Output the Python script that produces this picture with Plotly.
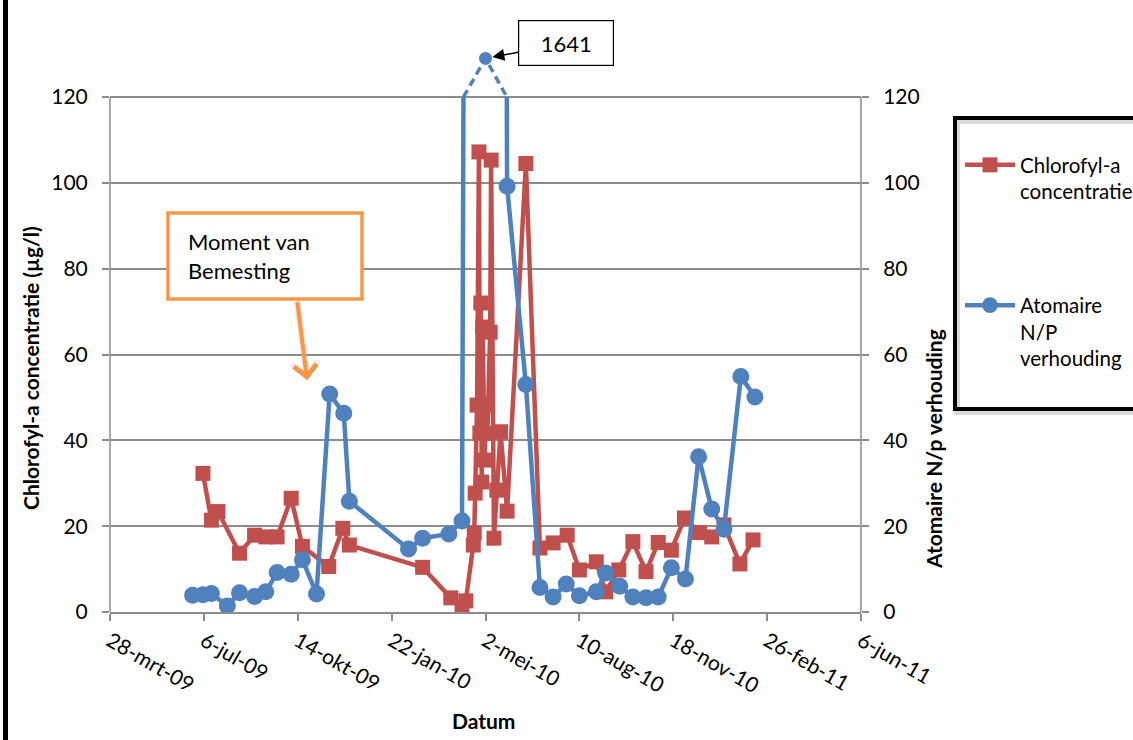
import pandas as pd
import plotly.graph_objects as go

# ---------------------------------------------------------------- data
CHL_DATES = [
    "2009-07-05", "2009-07-14", "2009-07-21", "2009-08-13", "2009-08-29",
    "2009-09-10", "2009-09-22", "2009-10-07", "2009-10-19", "2009-11-16",
    "2009-12-01", "2009-12-08", "2010-02-24", "2010-03-26", "2010-04-07",
    "2010-04-11", "2010-04-19", "2010-04-20", "2010-04-21", "2010-04-23",
    "2010-04-25", "2010-04-26", "2010-04-27", "2010-04-28", "2010-04-29",
    "2010-05-01", "2010-05-03", "2010-05-04", "2010-05-07", "2010-05-08",
    "2010-05-11", "2010-05-14", "2010-05-18", "2010-05-25", "2010-06-14",
    "2010-06-29", "2010-07-13", "2010-07-28", "2010-08-10", "2010-08-28",
    "2010-09-07", "2010-09-21", "2010-10-06", "2010-10-20", "2010-11-02",
    "2010-11-16", "2010-11-30", "2010-12-16", "2010-12-29", "2011-01-11",
    "2011-01-28", "2011-02-11",
]
CHL_VALUES = [
    32.3, 21.4, 23.4, 13.7, 17.9,
    17.5, 17.5, 26.5, 15.3, 10.6,
    19.5, 15.6, 10.4, 3.3, 1.0,
    2.6, 15.6, 18.4, 27.7, 48.2,
    107.2, 41.7, 72.0, 30.3, 66.4,
    35.4, 48.2, 41.7, 65.2, 105.3,
    17.2, 28.4, 42.0, 23.5, 104.5,
    14.9, 16.1, 17.9, 9.8, 11.7,
    4.7, 9.8, 16.4, 9.4, 16.2,
    14.4, 21.9, 18.5, 17.5, 20.3,
    11.2, 16.8,
]

NP_DATES = [
    "2009-06-24", "2009-07-05", "2009-07-14", "2009-07-31", "2009-08-13",
    "2009-08-29", "2009-09-10", "2009-09-22", "2009-10-07", "2009-10-19",
    "2009-11-03", "2009-11-17", "2009-12-02", "2009-12-08", "2010-02-09",
    "2010-02-24", "2010-03-24", "2010-04-07", "2010-05-02", "2010-05-25",
    "2010-06-14", "2010-06-29", "2010-07-13", "2010-07-27", "2010-08-10",
    "2010-08-28", "2010-09-07", "2010-09-22", "2010-10-06", "2010-10-20",
    "2010-11-02", "2010-11-16", "2010-12-01", "2010-12-15", "2010-12-29",
    "2011-01-11", "2011-01-29", "2011-02-13",
]
NP_VALUES = [
    3.9, 4.0, 4.3, 1.4, 4.5,
    3.6, 4.7, 9.2, 8.8, 12.2,
    4.2, 50.8, 46.3, 25.8, 14.7,
    17.2, 18.2, 21.2, 1641, 99.2,
    53.0, 5.7, 3.5, 6.5, 3.8,
    4.7, 9.1, 6.0, 3.5, 3.3,
    3.5, 10.3, 7.7, 36.2, 24.0,
    19.3, 54.9, 50.1,
]

TICK_DATES = [
    "2009-03-28", "2009-07-06", "2009-10-14", "2010-01-22", "2010-05-02",
    "2010-08-10", "2010-11-18", "2011-02-26", "2011-06-06",
]
TICK_LABELS = [
    "28-mrt-09", "6-jul-09", "14-okt-09", "22-jan-10", "2-mei-10",
    "10-aug-10", "18-nov-10", "26-feb-11", "6-jun-11",
]
Y_TICKS = [0, 20, 40, 60, 80, 100, 120]

FERTILIZATION_DATE = "2009-10-24"

# ---------------------------------------------------------------- styling
RED = "#C0504D"
BLUE = "#4F81BD"
ORANGE = "#F79646"
GRID = "#8c8c8c"
FONT = "Lato, 'Open Sans', sans-serif"

W, H = 1133, 740
PLOT_L, PLOT_R, PLOT_T, PLOT_B = 110, 861, 40, 612
AXIS_MAX = 120          # top of the value scale
AXIS_MAX_PX = 97        # pixel row of the 120 gridline
BREAK_LEVEL = 129       # height at which off-scale values are drawn
Y_TOP = AXIS_MAX * (PLOT_B - PLOT_T) / (PLOT_B - AXIS_MAX_PX)


def xp(px):
    return (px - PLOT_L) / (PLOT_R - PLOT_L)


def yp(py):
    return (PLOT_B - py) / (PLOT_B - PLOT_T)


# Split the N/P series where it leaves the scale: solid up to the axis
# maximum, dashed stub to a point drawn above the frame.
np_t = pd.to_datetime(NP_DATES)
solid_x, solid_y, solid_s = [], [], []
stub_x, stub_y, stub_s = [], [], []
peak_date = peak_value = None
for i, (t, v) in enumerate(zip(np_t, NP_VALUES)):
    if v <= AXIS_MAX:
        solid_x.append(t); solid_y.append(v); solid_s.append(17)
        continue
    pt, pv = np_t[i - 1], NP_VALUES[i - 1]
    nt, nv = np_t[i + 1], NP_VALUES[i + 1]
    up = pt + (t - pt) * ((AXIS_MAX - pv) / (v - pv))
    down = t + (nt - t) * ((v - AXIS_MAX) / (v - nv))
    solid_x += [up, None, down]; solid_y += [AXIS_MAX, None, AXIS_MAX]
    solid_s += [0, 0, 0]
    stub_x += [up, t, down]; stub_y += [AXIS_MAX, BREAK_LEVEL, AXIS_MAX]
    stub_s += [0, 13, 0]
    peak_date, peak_value = t, v

fig = go.Figure()

fig.add_trace(go.Scatter(
    x=pd.to_datetime(CHL_DATES), y=CHL_VALUES, yaxis="y",
    name="Chlorofyl-a<br>concentratie", mode="lines+markers",
    line=dict(color=RED, width=4.5),
    marker=dict(symbol="square", size=15, color=RED, opacity=1,
                line=dict(width=0)),
    legendgroup="chl",
))
fig.add_trace(go.Scatter(
    x=stub_x, y=stub_y, yaxis="y2", mode="lines+markers", showlegend=False,
    line=dict(color=BLUE, width=3.5, dash="8px,5px"),
    marker=dict(size=stub_s, color=BLUE, opacity=1, line=dict(width=0)),
    cliponaxis=False,
))
fig.add_trace(go.Scatter(
    x=solid_x, y=solid_y, yaxis="y2",
    name="Atomaire<br>N/P<br>verhouding", mode="lines+markers",
    line=dict(color=BLUE, width=4.5),
    marker=dict(size=solid_s, color=BLUE, opacity=1, line=dict(width=0)),
    legendgroup="np", connectgaps=False,
))

axis_common = dict(
    range=[0, Y_TOP], tickvals=Y_TICKS, ticks="outside", ticklen=7,
    tickcolor=GRID, tickwidth=1.5, showline=False, zeroline=False,
    tickfont=dict(family=FONT, size=21, color="black"),
    ticklabelstandoff=10,
)

fig.update_layout(
    width=W, height=H,
    margin=dict(l=PLOT_L, r=W - PLOT_R, t=PLOT_T, b=H - PLOT_B, autoexpand=False),
    paper_bgcolor="white", plot_bgcolor="white",
    font=dict(family=FONT, color="black"),
    xaxis=dict(
        range=[TICK_DATES[0], TICK_DATES[-1]], tickvals=TICK_DATES,
        ticktext=TICK_LABELS, tickangle=30, ticks="outside", ticklen=7,
        tickcolor=GRID, tickwidth=1.5, showgrid=False, showline=True,
        linecolor=GRID, linewidth=1.5, zeroline=False,
        tickfont=dict(family=FONT, size=21, color="black"),
    ),
    yaxis=dict(**axis_common, showgrid=True, gridcolor=GRID, gridwidth=1.5),
    yaxis2=dict(**axis_common, overlaying="y", side="right", showgrid=False),
    legend=dict(
        x=xp(960), y=yp(145), xanchor="left", yanchor="top",
        font=dict(family=FONT, size=20.5, color="black"),
        bgcolor="rgba(0,0,0,0)", borderwidth=0, tracegroupgap=84,
        valign="top", itemwidth=50,
    ),
    showlegend=True,
)

shapes = [
    # axis frame lines from 0 to the scale maximum
    dict(type="line", xref="paper", yref="y", x0=0, x1=0, y0=0, y1=AXIS_MAX,
         line=dict(color=GRID, width=1.5)),
    dict(type="line", xref="paper", yref="y", x0=1, x1=1, y0=0, y1=AXIS_MAX,
         line=dict(color=GRID, width=1.5)),
    # chart border at the left edge
    dict(type="line", xref="paper", yref="paper", x0=xp(5.5), x1=xp(5.5),
         y0=yp(H + 5), y1=yp(-5), line=dict(color="black", width=5)),
    # legend frame with soft shadow
    dict(type="rect", xref="paper", yref="paper", x0=xp(957), x1=xp(1145),
         y0=yp(412), y1=yp(121), line=dict(color="rgba(0,0,0,0.15)", width=6),
         layer="below"),
    dict(type="rect", xref="paper", yref="paper", x0=xp(955), x1=xp(1145),
         y0=yp(409), y1=yp(118), line=dict(color="black", width=4)),
    # callout frame for the fertilisation note
    dict(type="rect", xref="paper", yref="paper", x0=xp(168), x1=xp(362),
         y0=yp(299), y1=yp(213), fillcolor="white",
         line=dict(color=ORANGE, width=3.5)),
]
fig.update_layout(shapes=shapes)

title_font = dict(family=FONT, size=21, color="black", weight="bold")
annotations = [
    dict(text="Chlorofyl-a concentratie (µg/l)", xref="paper", yref="paper",
         x=xp(30), y=yp(368), xanchor="center", yanchor="middle",
         textangle=-90, showarrow=False, font=title_font),
    dict(text="Atomaire N/p verhouding", xref="paper", yref="paper",
         x=xp(933), y=yp(449), xanchor="center", yanchor="middle",
         textangle=-90, showarrow=False, font=title_font),
    dict(text="Datum", xref="paper", yref="paper", x=xp(483), y=yp(720),
         xanchor="center", yanchor="middle", showarrow=False, font=title_font),
    # value label of the off-scale point
    dict(text=f"{peak_value:g}", x=peak_date, y=BREAK_LEVEL, xref="x", yref="y2",
         ax=80, ay=-15, showarrow=True, arrowhead=2, arrowsize=1.6,
         arrowwidth=1.5, arrowcolor="black", standoff=7,
         bgcolor="white", bordercolor="black", borderwidth=1.2,
         width=84, height=34, borderpad=5,
         font=dict(family=FONT, size=22, color="black")),
    # fertilisation marker: faint shadow, arrow, then the note text
    dict(text="", x=FERTILIZATION_DATE, y=54, xref="x", yref="y",
         ax=-10, ay=-80, showarrow=True, arrowhead=4, arrowsize=0.75,
         arrowwidth=7, arrowcolor="rgba(150,150,150,0.18)"),
    dict(text="", x=FERTILIZATION_DATE, y=54, xref="x", yref="y",
         ax=-10, ay=-80, showarrow=True, arrowhead=4, arrowsize=1.1,
         arrowwidth=4, arrowcolor=ORANGE),
    dict(text="Moment van<br>Bemesting", xref="paper", yref="paper",
         x=xp(186), y=yp(256), xanchor="left", yanchor="middle",
         showarrow=False, align="left",
         font=dict(family=FONT, size=22, color="black")),
]
fig.update_layout(annotations=annotations)

fig.write_html("out.html")
